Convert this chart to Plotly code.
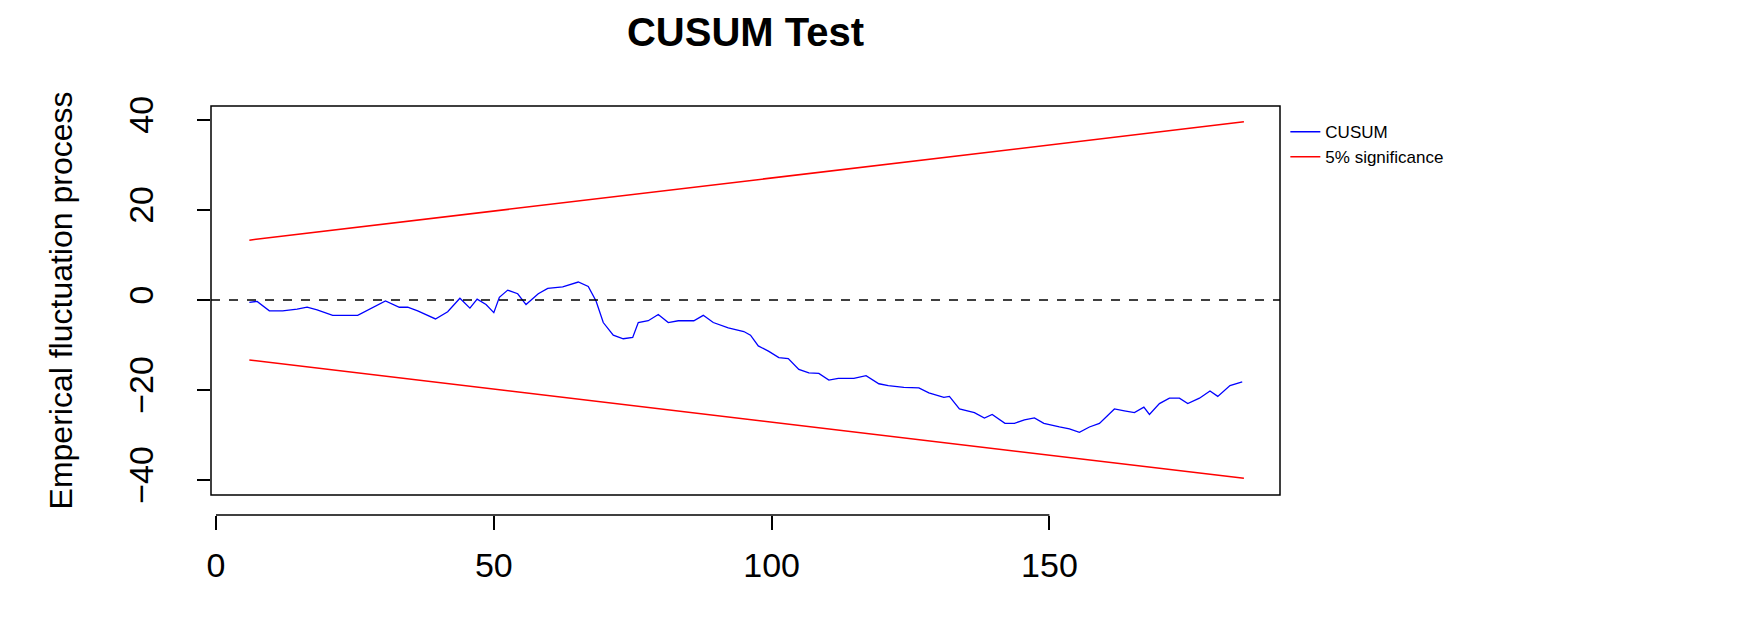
import plotly.graph_objects as go

cusum_t = [6,7.4,9.6,12,14.6,16.4,18.2,21,25.5,28,30.5,33,34.5,36.3,39.5,41.7,43.9,45.7,47,48.6,50,51,52.5,54.3,55.8,58,59.7,62.4,65.2,67,68.4,69.7,71.5,73.3,75,76,77.8,79.6,81.4,83.2,86,87.7,89.5,92.2,95,96.2,97.6,99.5,101.3,103,104.9,106.7,108.5,110.3,112,114.8,117,119.3,121,123.8,126.5,128.3,131,132,133.8,136.5,138.3,139.7,142,143.7,145.5,147.3,149,151.8,153.6,155.4,157.2,159,161.7,163.5,165.3,167,168,169.8,171.6,173.4,174.9,177,178.9,180.3,182.5,184.7]
cusum_v = [-0.5,-0.3,-2.4,-2.4,-2,-1.6,-2.2,-3.4,-3.4,-1.8,-0.2,-1.6,-1.6,-2.4,-4.2,-2.6,0.4,-1.8,0.2,-1,-2.8,0.6,2.2,1.4,-1,1.4,2.6,2.9,4,3,-0.2,-5,-7.8,-8.6,-8.3,-5,-4.6,-3.2,-5,-4.6,-4.6,-3.4,-5,-6.2,-7,-7.8,-10.2,-11.4,-12.8,-13,-15.4,-16.2,-16.3,-17.8,-17.4,-17.4,-16.8,-18.6,-19,-19.4,-19.5,-20.6,-21.6,-21.4,-24.2,-25,-26.2,-25.4,-27.4,-27.4,-26.6,-26.2,-27.4,-28.2,-28.6,-29.4,-28.2,-27.4,-24.2,-24.6,-25,-23.8,-25.4,-23,-21.8,-21.8,-23,-21.8,-20.2,-21.4,-19,-18.2]
bound_t = [6, 185]
bound_upper = [13.3, 39.6]
bound_lower = [-13.3, -39.6]
x_ticks = [0, 50, 100, 150]
y_ticks = [-40, -20, 0, 20, 40]

fig = go.Figure()
fig.add_trace(go.Scatter(x=cusum_t, y=cusum_v, mode="lines", name="CUSUM",
                         line=dict(color="blue", width=1.3)))
fig.add_trace(go.Scatter(x=bound_t, y=bound_upper, mode="lines", name="5% significance",
                         line=dict(color="red", width=1.5)))
fig.add_trace(go.Scatter(x=bound_t, y=bound_lower, mode="lines", showlegend=False,
                         line=dict(color="red", width=1.5)))

fig.add_hline(y=0, line=dict(color="black", dash="dash", width=1.5))
fig.add_shape(type="rect", xref="x domain", yref="y domain", x0=0, x1=1, y0=0, y1=1,
              line=dict(color="black", width=1.5))
fig.add_shape(type="line", xref="x", yref="paper", x0=x_ticks[0], x1=x_ticks[-1], y0=0, y1=0,
              line=dict(color="black", width=1.5))

fig.update_layout(
    width=1741, height=628,
    margin=dict(l=203, r=469, t=98, b=121),
    paper_bgcolor="white", plot_bgcolor="white",
    font=dict(family="Liberation Sans, Arial", color="black"),
    title=dict(text="<b>CUSUM Test</b>", x=(203+1272)/2/1741, xanchor="center",
               y=1-24/628, yanchor="middle", font=dict(size=40)),
    legend=dict(x=1.005, y=0.98, xanchor="left", yanchor="top",
                font=dict(size=17), bgcolor="rgba(0,0,0,0)", tracegroupgap=0),
    xaxis=dict(range=[-0.9, 191.5], tickvals=x_ticks, ticks="outside", ticklen=14,
               tickcolor="black", tickwidth=1.5, showgrid=False, zeroline=False,
               showline=False, anchor="free", position=0, tickfont=dict(size=34),
               ticklabelstandoff=6),
    yaxis=dict(range=[-43.3, 43.1], domain=[0.049, 1], tickvals=y_ticks, ticks="outside",
               ticklen=13, tickcolor="black", tickwidth=1.5, showgrid=False, zeroline=False,
               showline=False, tickangle=-90, tickfont=dict(size=34), ticklabelstandoff=30,
               title=dict(text="Emperical fluctuation process", font=dict(size=32), standoff=40)),
)
fig.write_html("out.html")
